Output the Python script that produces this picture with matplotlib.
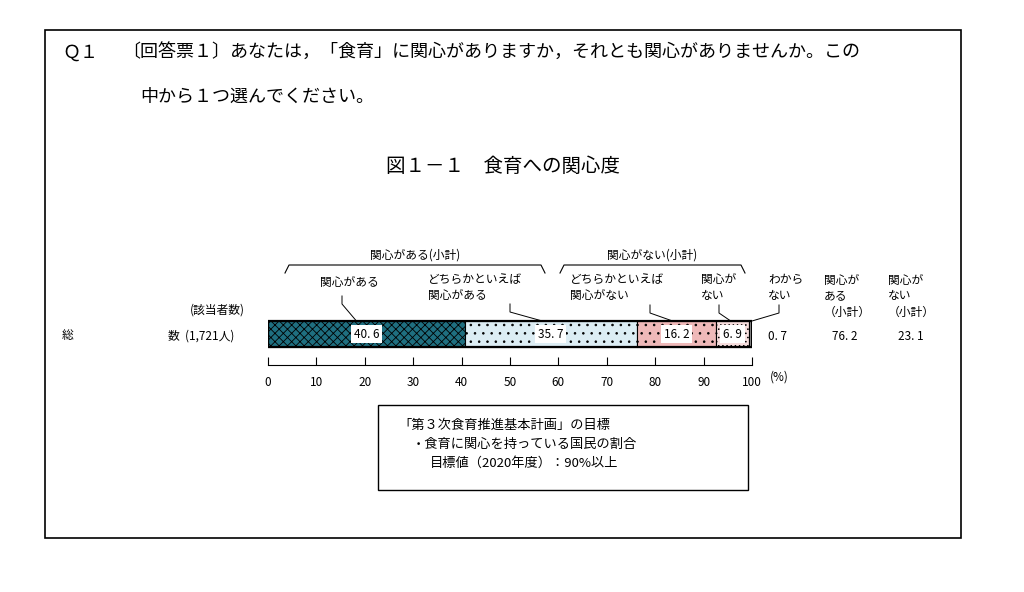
import matplotlib
matplotlib.use("Agg")
import matplotlib.pyplot as plt
from matplotlib.patches import Rectangle

plt.rcParams["font.family"] = "Noto Sans CJK JP"
plt.rcParams["hatch.linewidth"] = 0.6

categories = ["関心がある", "どちらかといえば\n関心がある", "どちらかといえば\n関心がない", "関心が\nない", "わから\nない"]
values = [40.6, 35.7, 16.2, 6.9, 0.7]
subtotals = [76.2, 23.1]
colors = ["#1f6f80", "#dcedf4", "#efb9b9", "#f7dede", "#999999"]
hatches = ["xxxx", "..", "..", "....", ""]
ticks = [0, 10, 20, 30, 40, 50, 60, 70, 80, 90, 100]

W, H = 1024, 592
fig = plt.figure(figsize=(W / 100, H / 100), dpi=100)

# overlay in pixel coordinates
bg = fig.add_axes([0, 0, 1, 1])
bg.set_xlim(0, W)
bg.set_ylim(H, 0)
bg.axis("off")
bg.add_patch(Rectangle((45, 30), 916, 508, fill=False, lw=1.2, ec="black"))

fs = 8.5
bg.text(62, 53, "Ｑ１", fontsize=13, va="center")
bg.text(122, 53, "〔回答票１〕あなたは，「食育」に関心がありますか，それとも関心がありませんか。この",
        fontsize=13, va="center")
bg.text(140, 97, "中から１つ選んでください。", fontsize=13, va="center")
bg.text(503, 166, "図１－１　食育への関心度", fontsize=14, va="center", ha="center")

# bar axes: x 268..752 px, y 318..365 px
ax = fig.add_axes([268 / W, 1 - 365 / H, 484 / W, 47 / H])
ax.set_xlim(0, 100)
ax.set_ylim(0, 1)
y0, y1 = 18 / 47, 44 / 47
left = 0
for v, c, h in zip(values, colors, hatches):
    ax.barh((y0 + y1) / 2, v, height=y1 - y0, left=left, color=c, hatch=h,
            edgecolor="black", lw=0.8)
    left += v
ax.add_patch(Rectangle((0, y0), 100, y1 - y0, fill=False, lw=1.6, ec="black"))

left = 0
for v in values[:4]:
    ax.text(left + v / 2, (y0 + y1) / 2, f"{v:.1f}".replace(".", ". "), ha="center", va="center",
            fontsize=fs, bbox=dict(fc="white", ec="none", pad=2))
    left += v

for s in ["top", "left", "right"]:
    ax.spines[s].set_visible(False)
ax.set_yticks([])
ax.set_xticks(ticks)
ax.set_xticklabels([str(t) for t in ticks], fontsize=fs)
ax.tick_params(axis="x", direction="in", length=6, pad=8)
ax.patch.set_alpha(0)
bg.text(770, 377, "(%)", fontsize=fs, va="center")

# leader lines and category labels
lbl_pos = [(320, 282), (428, 287), (570, 287), (701, 287), (768, 287)]
leader = [(342, 296), (510, 304), (650, 305), (719, 305), (779, 305)]
left = 0
for i, (cat, v) in enumerate(zip(categories, values)):
    px = 268 + 4.84 * (left + v * (0.45 if i < 4 else 1))
    if i == 4:
        px = 752
    bg.text(*lbl_pos[i], cat, fontsize=fs, va="center", linespacing=1.3)
    bg.plot([leader[i][0], leader[i][0], px], [leader[i][1], leader[i][1] + 8, 321],
            color="black", lw=0.7)
    left += v

bg.text(768, 336, "0. 7", fontsize=fs, va="center")
bg.text(832, 336, f"{subtotals[0]:.1f}".replace(".", ". "), fontsize=fs, va="center")
bg.text(898, 336, f"{subtotals[1]:.1f}".replace(".", ". "), fontsize=fs, va="center")
bg.text(824, 296, "関心が\nある\n（小計）", fontsize=fs, va="center", linespacing=1.3)
bg.text(888, 296, "関心が\nない\n（小計）", fontsize=fs, va="center", linespacing=1.3)

# braces for subtotals
for x0, x1, t in [(285, 545, "関心がある(小計)"), (560, 745, "関心がない(小計)")]:
    bg.plot([x0, x0 + 4, x1 - 4, x1], [273, 265, 265, 273], color="black", lw=0.8)
    bg.text((x0 + x1) / 2, 255, t, fontsize=fs, ha="center", va="center")

bg.text(190, 310, "(該当者数)", fontsize=fs, va="center")
bg.text(62, 336, "総", fontsize=fs, va="center")
bg.text(168, 336, "数  (1,721人)", fontsize=fs, va="center")

bg.add_patch(Rectangle((378, 405), 370, 85, fill=False, lw=1.0, ec="black"))
bg.text(398, 425, "「第３次食育推進基本計画」の目標", fontsize=9.5, va="center")
bg.text(412, 444, "・食育に関心を持っている国民の割合", fontsize=9.5, va="center")
bg.text(430, 463, "目標値（2020年度）：90%以上", fontsize=9.5, va="center")

fig.savefig("out.png", dpi=100)
